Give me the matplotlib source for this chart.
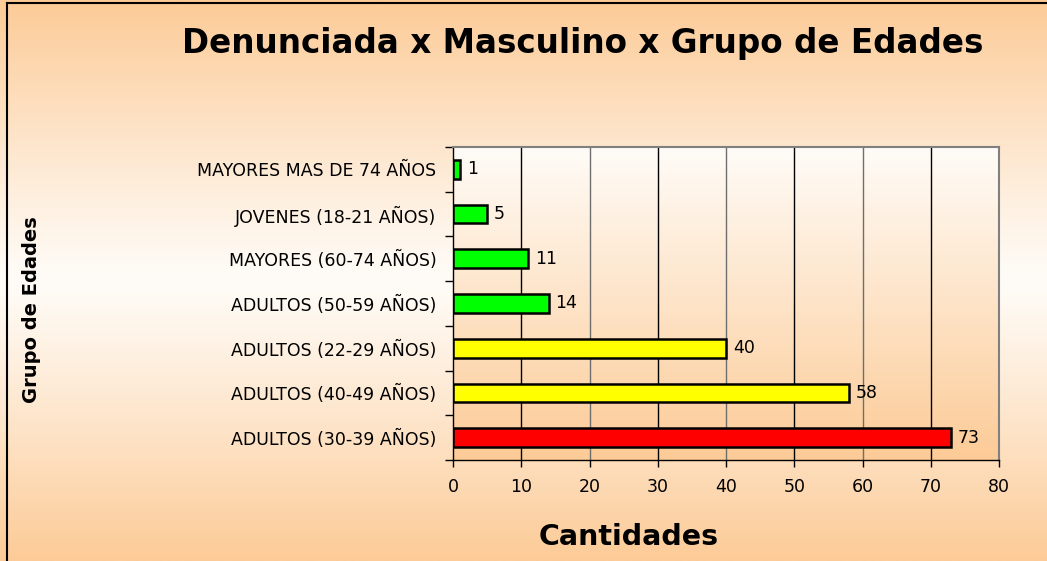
import matplotlib
matplotlib.use("Agg")
import matplotlib.pyplot as plt
import numpy as np
from matplotlib.lines import Line2D

categories = ["ADULTOS (30-39 AÑOS)", "ADULTOS (40-49 AÑOS)", "ADULTOS (22-29 AÑOS)",
              "ADULTOS (50-59 AÑOS)", "MAYORES (60-74 AÑOS)", "JOVENES (18-21 AÑOS)",
              "MAYORES MAS DE 74 AÑOS"]
values = [73, 58, 40, 14, 11, 5, 1]
bar_colors = ["#FF0000", "#FFFF00", "#FFFF00", "#00FF00", "#00FF00", "#00FF00", "#00FF00"]
x_ticks = [0, 10, 20, 30, 40, 50, 60, 70, 80]

plt.rcParams['font.family'] = ['DejaVu Sans']

W, H = 1047, 561
fig = plt.figure(figsize=(W / 100, H / 100), dpi=100)

peach = np.array([252, 203, 151]) / 255
white = np.array([255, 252, 248]) / 255

# figure background gradient: peach top -> white middle -> peach bottom
bg = fig.add_axes([0, 0, 1, 1], zorder=-10)
t = np.linspace(0, 1, 400)
mid = 0.5
grad = []
for v in t:
    f = abs(v - mid) / mid
    grad.append(white + (peach - white) * f ** 1.1)
grad = np.array(grad)[:, None, :]
bg.imshow(grad, aspect='auto', extent=[0, 1, 1, 0])
bg.set_xlim(0, 1); bg.set_ylim(1, 0)
bg.axis('off')

# plot area
left, right, top, bottom = 453, 999, 147, 460
ax = fig.add_axes([left / W, 1 - bottom / H, (right - left) / W, (bottom - top) / H])
n = len(categories)

# plot area gradient white top -> peach bottom
t2 = np.linspace(0, 1, 300)
g2 = np.array([white + (peach - white) * v for v in t2])[:, None, :]
ax.imshow(g2, aspect='auto', extent=[0, 80, -0.5, n - 0.5], origin='upper', zorder=0)
ax.set_xlim(0, 80)
ax.set_ylim(-0.5, n - 0.5)

for xv in x_ticks[1:-1]:
    col = '#000000' if (xv // 10) % 2 == 1 else '#6e6e6e'
    ax.axvline(xv, color=col, lw=1.0, zorder=1)

y = np.arange(n)
ax.barh(y, values, height=0.42, color=bar_colors, edgecolor='black', linewidth=1.8, zorder=3)
for yi, v in zip(y, values):
    ax.text(v + 1.0, yi, str(v), va='center', ha='left', fontsize=12.5, color='black', zorder=4)

ax.set_xticks(x_ticks)
ax.set_xticklabels([str(v) for v in x_ticks], fontsize=12.5)
ax.tick_params(axis='x', length=5, width=1, pad=8, color='black')
ax.set_yticks(y)
ax.set_yticklabels(categories, fontsize=12.5)
ax.tick_params(axis='y', length=0, pad=12)
ax.set_yticks(np.arange(-0.5, n, 1), minor=True)
ax.tick_params(axis='y', which='minor', length=6, width=1, color='black')

for s in ['left', 'bottom']:
    ax.spines[s].set_color('black'); ax.spines[s].set_linewidth(1.0)
for s in ['top', 'right']:
    ax.spines[s].set_color('#808080'); ax.spines[s].set_linewidth(1.5)

fig.text(583 / W, 1 - 44 / H, "Denunciada x Masculino x Grupo de Edades", ha='center', va='center',
         fontsize=23.5, fontweight='bold')
fig.text(629 / W, 1 - 537 / H, "Cantidades", ha='center', va='center', fontsize=20.5, fontweight='bold')
fig.text(32 / W, 1 - 310 / H, "Grupo de Edades", ha='center', va='center', rotation=90,
         fontsize=14, fontweight='bold')

# outer frame (left and top edges visible)
fig.add_artist(Line2D([7 / W, 7 / W], [0, 1 - 3 / H], transform=fig.transFigure, color='black', lw=1.5))
fig.add_artist(Line2D([7 / W, 1], [1 - 3 / H, 1 - 3 / H], transform=fig.transFigure, color='black', lw=1.5))

fig.savefig("out.png", dpi=100)
